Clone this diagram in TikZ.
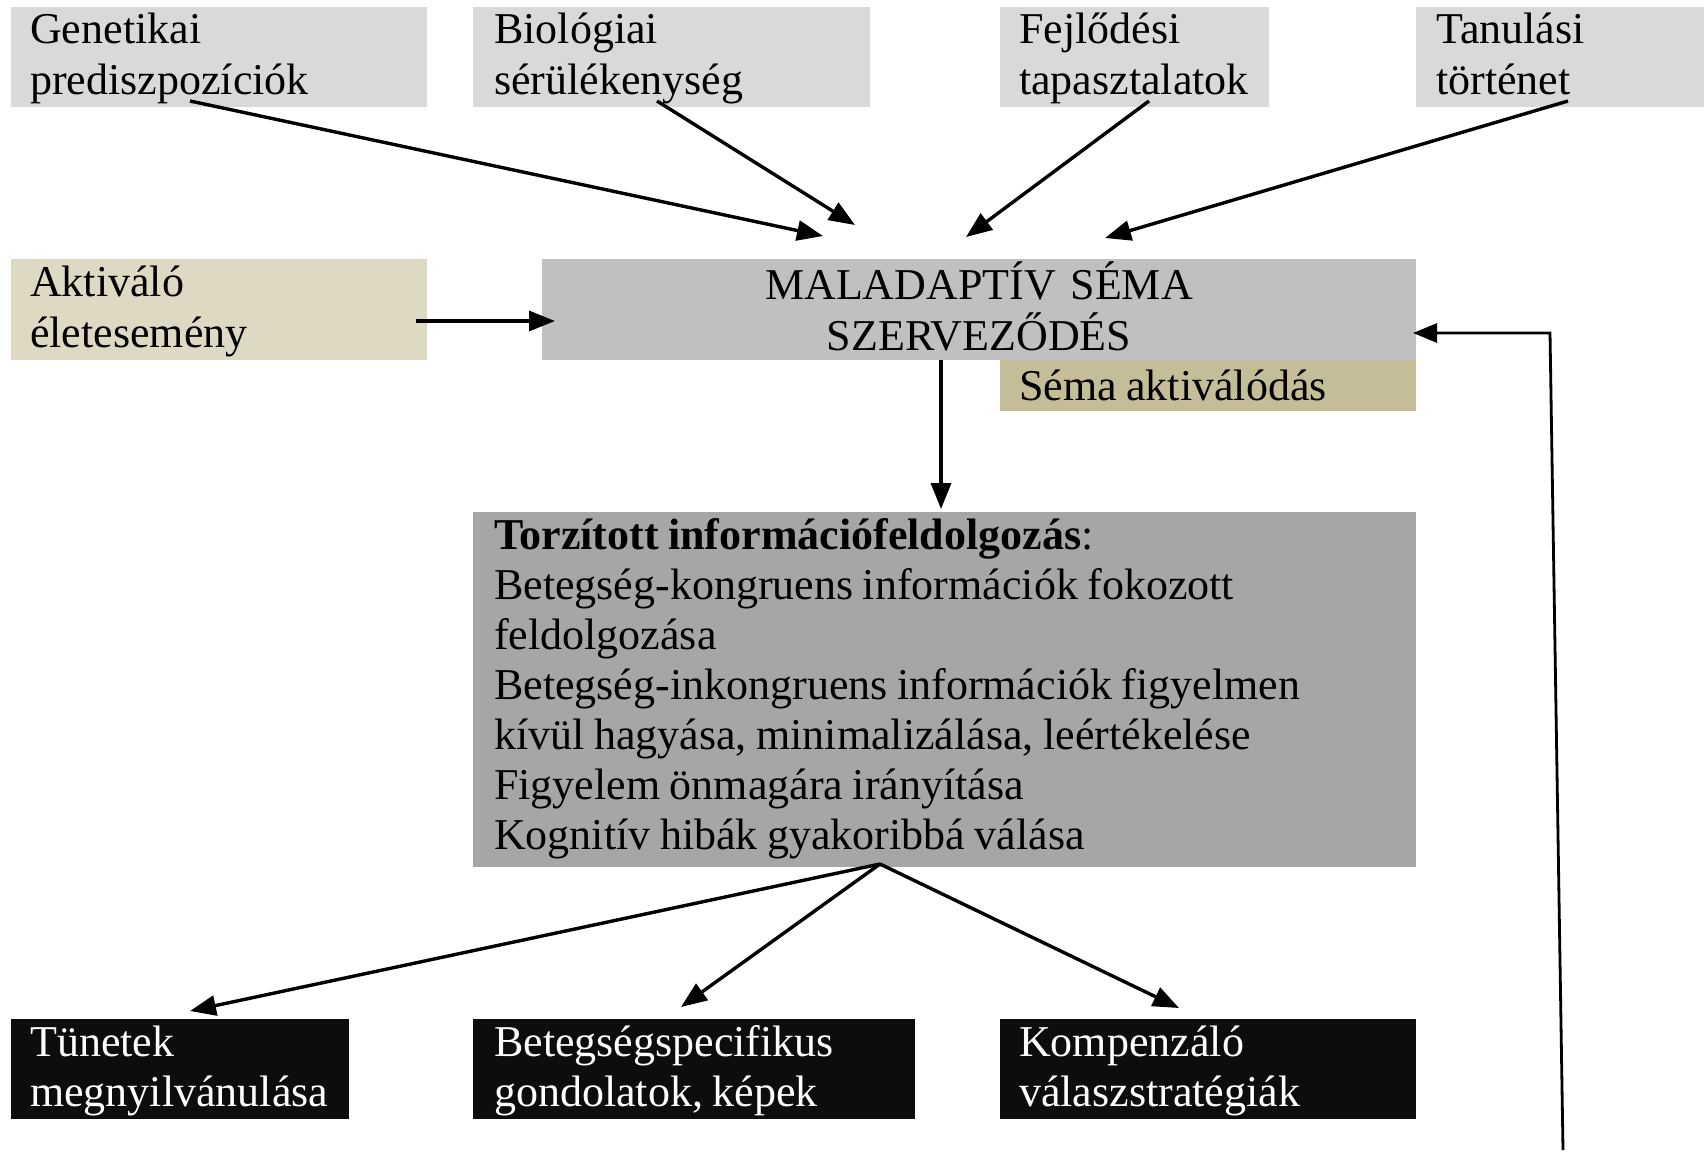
\documentclass[tikz,border=0pt]{standalone}
\usepackage{fontspec}
\setmainfont{Liberation Serif}
\usetikzlibrary{arrows.meta}

\definecolor{topgray}{HTML}{D9D9D9}
\definecolor{trigger}{HTML}{DDD9C3}
\definecolor{schema}{HTML}{C0C0C0}
\definecolor{activ}{HTML}{C4BD97}
\definecolor{process}{HTML}{A6A6A6}
\definecolor{outcome}{HTML}{0D0D0D}

\newcommand\tightspaces{\spaceskip=9.5pt plus 2pt minus 2pt\relax}

\tikzset{
  box/.style={draw=none, inner sep=0pt, anchor=north west},
  txt/.style={inner sep=0pt, anchor=base west, align=left, text width=#1,
              font=\fontsize{44}{51}\selectfont,
              execute at begin node=\tightspaces},
  txt/.default=900pt,
  flow/.style={line width=3.4pt, -{Triangle[length=26pt,width=20pt]}},
  back/.style={line width=2.8pt, -{Triangle[length=24pt,width=19pt]}}
}

\begin{document}
\begin{tikzpicture}[x=1pt, y=-1pt]
\useasboundingbox (0,0) rectangle (1704,1161);

% top row: background factors
\node[box, fill=topgray, minimum width=416, minimum height=100] (gen) at (11,7) {};
\node[box, fill=topgray, minimum width=397, minimum height=100] (bio) at (473,7) {};
\node[box, fill=topgray, minimum width=269, minimum height=100] (fej) at (1000,7) {};
\node[box, fill=topgray, minimum width=288, minimum height=100] (tan) at (1416,7) {};
\node[txt=390pt] (gent) at (30,43.5) {Genetikai\\prediszpozíciók};
\node[txt=390pt] (biot) at (494,43.5) {Biológiai\\sérülékenység};
\node[txt=260pt] (fejt) at (1019,43.5) {Fejlődési\\tapasztalatok};
\node[txt=270pt] (tant) at (1436,43.5) {Tanulási\\történet};

% middle row
\node[box, fill=trigger, minimum width=416, minimum height=101] (akt) at (11,259) {};
\node[txt=390pt] (aktt) at (30,296) {Aktiváló\\életesemény};
\node[box, fill=schema, minimum width=874, minimum height=101] (mal) at (542,259) {};
\node[txt=874pt, align=center, anchor=base] (malt) at (979,299) {MALADAPTÍV SÉMA\\SZERVEZŐDÉS};
\node[box, fill=activ, minimum width=416, minimum height=51] (sema) at (1000,360) {};
\node[txt=390pt] (semat) at (1019,400) {Séma aktiválódás};

% distorted processing
\node[box, fill=process, minimum width=943, minimum height=355] (tor) at (473,512) {};
\node[txt=910pt, font=\fontsize{44}{50}\selectfont] (tort) at (494,549)
  {\textbf{Torzított információfeldolgozás}:\\
   Betegség-kongruens információk fokozott\\
   feldolgozása\\
   Betegség-inkongruens információk figyelmen\\
   kívül hagyása, minimalizálása, leértékelése\\
   Figyelem önmagára irányítása\\
   Kognitív hibák gyakoribbá válása};

% outcomes
\node[box, fill=outcome, minimum width=338, minimum height=100] (tun) at (11,1019) {};
\node[box, fill=outcome, minimum width=442, minimum height=100] (bet) at (473,1019) {};
\node[box, fill=outcome, minimum width=416, minimum height=100] (kom) at (1000,1019) {};
\node[txt=320pt, text=white, font=\fontsize{44}{50}\selectfont] (tunt) at (30,1056) {Tünetek\\megnyilvánulása};
\node[txt=420pt, text=white, font=\fontsize{44}{50}\selectfont] (bett) at (494,1056) {Betegségspecifikus\\gondolatok, képek};
\node[txt=400pt, text=white, font=\fontsize{44}{50}\selectfont] (komt) at (1019,1056) {Kompenzáló\\válaszstratégiák};

% connector end points
\coordinate (gS) at (190,101);  \coordinate (gE) at (823,236);
\coordinate (bS) at (657,101);  \coordinate (bE) at (855,225);
\coordinate (fS) at (1149,101); \coordinate (fE) at (966,237);
\coordinate (tS) at (1568,101); \coordinate (tE) at (1105,238);
\coordinate (aS) at (416,321);  \coordinate (aE) at (555,321);
\coordinate (mS) at (941,360);  \coordinate (mE) at (941,509);
\coordinate (split) at (880,864);
\coordinate (o1) at (190,1011);
\coordinate (o2) at (681,1007);
\coordinate (o3) at (1179,1008);
\coordinate (fbS) at (1563,1150);
\coordinate (fbC) at (1550,333);
\coordinate (fbE) at (1413,333);

\draw[flow] (gS) -- (gE);
\draw[flow] (bS) -- (bE);
\draw[flow] (fS) -- (fE);
\draw[flow] (tS) -- (tE);
\draw[flow] (aS) -- (aE);
\draw[flow] (mS) -- (mE);
\draw[flow] (split) -- (o1);
\draw[flow] (split) -- (o2);
\draw[flow] (split) -- (o3);
\draw[back] (fbS) -- (fbC) -- (fbE);
\end{tikzpicture}
\end{document}
